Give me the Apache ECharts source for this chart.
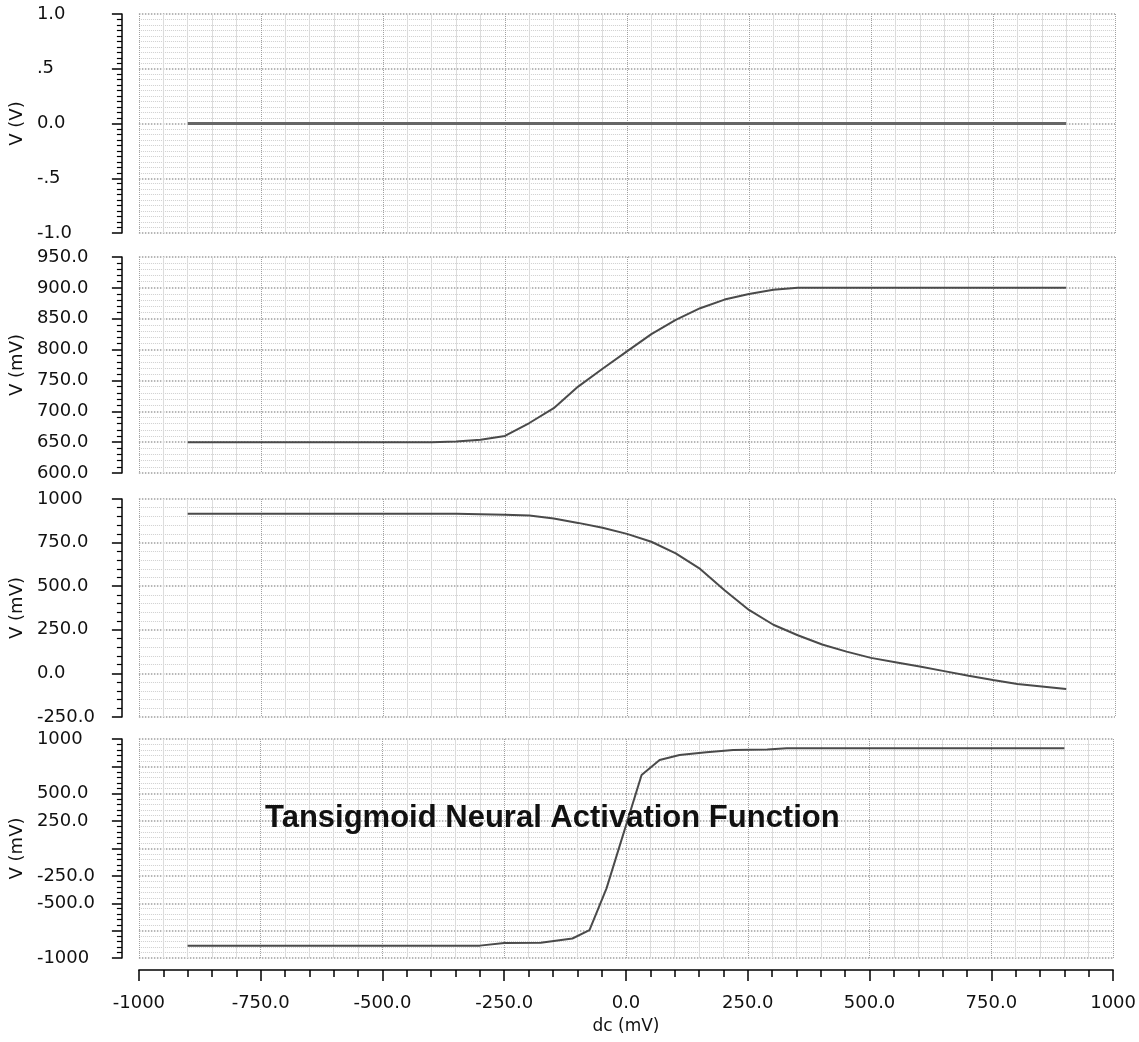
<!DOCTYPE html>
<html>
<head>
<meta charset="utf-8">
<script src="https://cdn.jsdelivr.net/npm/echarts@6/dist/echarts.min.js"></script>
<style>
  html, body { margin: 0; padding: 0; background: #fff; }
  #chart { width: 1139px; height: 1042px; }
</style>
</head>
<body>
<div id="chart"></div>
<script>
// dc sweep (mV) shared by the first three traces
const dcSweep = [
  -900, -850, -800, -750, -700, -650, -600, -550, -500, -450, -400, -350, -300,
  -250, -200, -150, -100, -50, 0, 50, 100, 150, 200, 250, 300, 350, 400,
  450, 500, 550, 600, 650, 700, 750, 800, 850, 900
];
// V (V)
const vZero = [
  0, 0, 0, 0, 0, 0, 0, 0, 0, 0, 0, 0, 0, 0, 0, 0, 0, 0, 0,
  0, 0, 0, 0, 0, 0, 0, 0, 0, 0, 0, 0, 0, 0, 0, 0, 0, 0
];
// V (mV)
const vOut1 = [
  650, 650, 650, 650, 650, 650, 650, 650, 650, 650, 650, 651, 654,
  660, 681, 705, 740, 769, 797, 825, 848, 867, 881, 890, 897, 900, 900,
  900, 900, 900, 900, 900, 900, 900, 900, 900, 900
];
// V (mV)
const vOut2 = [
  916, 916, 916, 916, 916, 916, 916, 916, 916, 916, 916, 915, 913,
  910, 905, 888, 863, 835, 800, 755, 688, 599, 477, 364, 279, 219, 166,
  125, 89, 64, 39, 13, -13, -38, -61, -75, -90
];
// tansig trace
const dcTansig = [-900, -300, -250, -175, -110, -75, -40, 32, 69, 110, 165, 220, 290, 330, 900];
const vTansig = [-887, -887, -862, -860, -822, -745, -364, 671, 808, 854, 878, 900, 905, 915, 915];

const xTicks = [-1000, -750, -500, -250, 0, 250, 500, 750, 1000];
const xTickLabels = ['-1000', '-750.0', '-500.0', '-250.0', '0.0', '250.0', '500.0', '750.0', '1000'];
const yTicks1 = [-1, -0.5, 0, 0.5, 1];
const yTickLabels1 = ['-1.0', '-.5', '0.0', '.5', '1.0'];
const yTicks2 = [600, 650, 700, 750, 800, 850, 900, 950];
const yTickLabels2 = ['600.0', '650.0', '700.0', '750.0', '800.0', '850.0', '900.0', '950.0'];
const yTicks3 = [-250, 0, 250, 500, 750, 1000];
const yTickLabels3 = ['-250.0', '0.0', '250.0', '500.0', '750.0', '1000'];
const yTicks4 = [-1000, -500, -250, 250, 500, 1000];
const yTickLabels4 = ['-1000', '-500.0', '-250.0', '250.0', '500.0', '1000'];

const FONT = 'DejaVu Sans';

const pickLabel = (ticks, labels) => (v) => {
  const i = ticks.findIndex(t => Math.abs(t - v) < 1e-6);
  return i >= 0 ? labels[i] : '';
};

const panels = [
  { top: 14, height: 219 },
  { top: 257, height: 216 },
  { top: 499, height: 218 },
  { top: 739, height: 219 }
];

const xAxisFor = (i, bottom) => ({
  type: 'value',
  gridIndex: i,
  min: -1000,
  max: 1000,
  interval: 250,
  offset: bottom ? 12 : 0,
  axisLine: { show: bottom, onZero: false, lineStyle: { color: '#000', width: 1.5 } },
  axisTick: { show: bottom, inside: false, length: 11, lineStyle: { color: '#000', width: 1.5 } },
  minorTick: { show: bottom, splitNumber: 5, length: 7, lineStyle: { color: '#000', width: 1.5 } },
  axisLabel: {
    show: bottom,
    margin: 24,
    fontFamily: FONT,
    fontSize: 18,
    color: '#111',
    formatter: pickLabel(xTicks, xTickLabels)
  },
  name: bottom ? 'dc (mV)' : '',
  nameLocation: 'middle',
  nameGap: 48,
  nameTextStyle: { fontFamily: FONT, fontSize: 17, color: '#111' },
  splitLine: { show: true, lineStyle: { color: '#a0a0a0', type: 'dotted', width: 1 } },
  minorSplitLine: { show: true, lineStyle: { color: '#dcdcdc', type: 'solid', width: 1 } }
});

const yAxisFor = (i, min, max, interval, minorN, name, ticks, labels) => ({
  type: 'value',
  gridIndex: i,
  min: min,
  max: max,
  interval: interval,
  offset: 17,
  name: name,
  nameLocation: 'middle',
  nameGap: 92,
  nameTextStyle: { fontFamily: FONT, fontSize: 18, color: '#111' },
  axisLine: { show: true, onZero: false, lineStyle: { color: '#000', width: 1.5 } },
  axisTick: { show: true, length: 10, lineStyle: { color: '#000', width: 1.5 } },
  minorTick: { show: true, splitNumber: minorN, length: 5, lineStyle: { color: '#000', width: 1.2 } },
  axisLabel: {
    margin: 85,
    align: 'left',
    fontFamily: FONT,
    fontSize: 18,
    color: '#111',
    formatter: pickLabel(ticks, labels)
  },
  splitLine: { show: true, lineStyle: { color: '#a0a0a0', type: 'dotted', width: 1.5 } },
  minorSplitLine: { show: true, lineStyle: { color: '#cfcfcf', type: 'dotted', width: 1 } }
});

const lineSeries = (i, xs, ys, color, width) => ({
  type: 'line',
  xAxisIndex: i,
  yAxisIndex: i,
  data: xs.map((x, k) => [x, ys[k]]),
  showSymbol: false,
  lineStyle: { color: color, width: width },
  z: 3
});

const chart = echarts.init(document.getElementById('chart'));

chart.setOption({
  animation: false,
  backgroundColor: '#fff',
  title: {
    text: 'Tansigmoid Neural Activation Function',
    left: 265,
    top: 803,
    padding: 0,
    textStyle: { fontFamily: 'Liberation Sans', fontWeight: 'bold', fontSize: 31, color: '#111' },
    z: 10
  },
  grid: panels.map(p => ({ left: 135, right: 24, top: p.top, height: p.height })),
  xAxis: [0, 1, 2, 3].map(i => xAxisFor(i, i === 3)),
  yAxis: [
    yAxisFor(0, -1, 1, 0.5, 10, 'V (V)', yTicks1, yTickLabels1),
    yAxisFor(1, 600, 950, 50, 5, 'V (mV)', yTicks2, yTickLabels2),
    yAxisFor(2, -250, 1000, 250, 5, 'V (mV)', yTicks3, yTickLabels3),
    yAxisFor(3, -1000, 1000, 250, 5, 'V (mV)', yTicks4, yTickLabels4)
  ],
  series: [
    lineSeries(0, dcSweep, vZero, '#666', 3),
    lineSeries(1, dcSweep, vOut1, '#4a4a4a', 2),
    lineSeries(2, dcSweep, vOut2, '#4a4a4a', 2),
    lineSeries(3, dcTansig, vTansig, '#4a4a4a', 2)
  ]
});
</script>
</body>
</html>
